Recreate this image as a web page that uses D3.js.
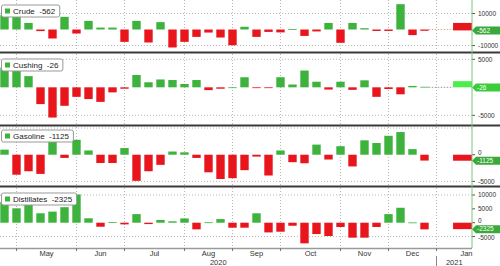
<!DOCTYPE html>
<html>
<head>
<meta charset="utf-8">
<script src="https://cdn.jsdelivr.net/npm/d3@7"></script>
<style>
body { margin: 0; background: #fff; }
svg { display: block; }
text { font-family: "Liberation Sans", Arial, sans-serif; }
</style>
</head>
<body>
<script>
// Weekly changes (thousand barrels), one value per week from Apr 24 2020 to Dec 25 2020
var firstWeek = new Date(Date.UTC(2020, 3, 24));
var lastRegular = new Date(Date.UTC(2020, 11, 26));
var latestWeek = new Date(Date.UTC(2021, 0, 15));
var weeks = d3.utcFriday.range(firstWeek, lastRegular);

var crude = [9000, 9000, 4100, -1000, -5600, 7900, -2500, 5400, 1200, 1200, -7700, 5400,
	-8100, 4600, -11200, -7700, -4600, -1900, -5000, -9800, 1700, -4600, -1500, -1800,
	300, -4000, -1200, 4100, -8300, 4100, 800, -900, -900, 15800, -3500, -800];
var cushing = [3500, 3500, 2000, -3000, -5400, -3300, -1700, -2100, -2600, -900, -250, 2200,
	900, 1400, 1300, 600, 1300, -500, -250, 0, 1800, -100, -100, 1800,
	500, 3000, 1000, -400, 1000, -450, 1250, -1700, -300, -1250, 250, 100];
var gasoline = [950, -3750, -3100, -3600, 2500, -600, 2800, 800, -1550, -1550, 1250, -4900,
	-3100, -1900, 600, 450, -600, -3300, -4550, -4400, -2900, -350, -3900, 800,
	-1400, -1600, 1900, -900, 1600, -2200, 2700, 2200, 3550, 4250, 1050, -1100];
var distillates = [7500, 5200, 6400, 3400, 4000, 5600, 10200, 1600, -1450, 250, -600, 3100,
	-500, 1000, 500, 1550, -2400, 150, 1300, -1800, -1800, 3400, -3500, -3250,
	-1100, -7450, -4100, -4800, -1550, -5400, -5400, -1550, 3100, 5400, 100, -2400];

// Latest reading and the wide end bar drawn for it
var names = ["Crude", "Cushing", "Gasoline", "Distillates"];
var latest = [-562, -26, -1125, -2325];
var latestBars = [[-562, 4100], [0, 1100], [-1125, 0], [-2325, 0]];
var axisTicks = [[10000, -10000], [5000, -5000], [0, -5000], [10000, 5000, 0, -5000]];
var gridTicks = [[10000, -10000], [5000, -5000], [5000, -5000], [10000, -5000]];

var width = 500, height = 266, plotRight = 472;
var green = "#3db23d", red = "#e8161c";

var panels = [
	{ values: crude, top: 0, bottom: 51, domain: [-13400, 18400], lastColor: red, tagColor: "#3aa83a", gap: "#cdb38a" },
	{ values: cushing, top: 54, bottom: 124, domain: [-6550, 5950], lastColor: "#4ded4d", tagColor: "#3bcc3b", gap: "#999" },
	{ values: gasoline, top: 127, bottom: 185, domain: [-5680, 5200], lastColor: red, tagColor: "#3aa83a", gap: null },
	{ values: distillates, top: 188, bottom: 248, domain: [-9130, 12530], lastColor: red, tagColor: "#3aa83a", gap: null }
];

var x = d3.scaleUtc()
	.domain([firstWeek, latestWeek])
	.range([4.5, 460.5]);
var step = x(d3.utcDay.offset(firstWeek, 7)) - x(firstWeek);
var barW = step * 0.7;

var svg = d3.select("body")
	.append("svg")
		.attr("width", width)
		.attr("height", height);

// Month ticks sit on the first weekly bar of each month
var months = d3.utcMonth.range(new Date(Date.UTC(2020, 4, 1)), new Date(Date.UTC(2021, 1, 2)));
var monthTicks = months.map(function(m) { return d3.utcFriday.ceil(m); });
var gridMonths = monthTicks.slice(0, -1);

panels.forEach(function(p, i) {
	var y = d3.scaleLinear().domain(p.domain).range([p.bottom, p.top]);
	var g = svg.append("g");

	// Dotted grid
	g.selectAll("line.vgrid")
		.data(gridMonths)
		.enter().append("line")
			.attr("x1", function(d) { return x(d); })
			.attr("x2", function(d) { return x(d); })
			.attr("y1", p.top)
			.attr("y2", p.bottom)
			.attr("stroke", "#b8b8b8")
			.attr("stroke-dasharray", "1,2");
	g.selectAll("line.hgrid")
		.data(gridTicks[i])
		.enter().append("line")
			.attr("x1", 0)
			.attr("x2", plotRight)
			.attr("y1", function(d) { return y(d); })
			.attr("y2", function(d) { return y(d); })
			.attr("stroke", "#b8b8b8")
			.attr("stroke-dasharray", "1,2");

	// Weekly bars
	g.selectAll("rect.bar")
		.data(p.values)
		.enter().append("rect")
			.attr("x", function(d, k) { return x(weeks[k]) - barW / 2; })
			.attr("width", barW)
			.attr("y", function(d) { return y(Math.max(0, d)); })
			.attr("height", function(d) { return Math.max(0.8, Math.abs(y(d) - y(0))); })
			.attr("fill", function(d) { return d >= 0 ? green : red; });

	// Dotted link across the missing weeks
	if (p.gap) {
		g.append("line")
			.attr("x1", x(weeks[weeks.length - 1]) + barW / 2)
			.attr("x2", x(latestWeek) - step * 0.62)
			.attr("y1", y(0))
			.attr("y2", y(0))
			.attr("stroke", p.gap)
			.attr("stroke-dasharray", "1.5,1.5");
	}

	// Latest bar, drawn wide up to the axis
	var lb = latestBars[i];
	g.append("rect")
		.attr("x", x(latestWeek) - step * 0.62)
		.attr("width", plotRight - (x(latestWeek) - step * 0.62))
		.attr("y", y(lb[1]))
		.attr("height", Math.abs(y(lb[0]) - y(lb[1])))
		.attr("fill", p.lastColor);

	// Right axis labels, nudged clear of the value tag
	var cy = y(latest[i]);
	var ticks = g.selectAll("g.tick")
		.data(axisTicks[i])
		.enter().append("g")
			.attr("transform", function(d) { return "translate(" + plotRight + "," + y(d) + ")"; });
	ticks.append("line")
		.attr("x1", 0).attr("x2", 3)
		.attr("stroke", "#555");
	ticks.append("text")
		.attr("x", 6)
		.attr("y", function(d) {
			var off = y(d) - cy;
			if (Math.abs(off) >= 8.5) return 0;
			return (off < 0 ? -8.5 : 8.5) - off;
		})
		.attr("dy", "0.35em")
		.attr("font-size", 6.5)
		.attr("fill", "#333")
		.text(function(d) { return d; });

	// Last value tag
	g.append("path")
		.attr("d", "M" + plotRight + "," + cy + "L" + (plotRight + 4) + "," + (cy - 4) +
			"H" + width + "V" + (cy + 4) + "H" + (plotRight + 4) + "Z")
		.attr("fill", p.tagColor);
	g.append("text")
		.attr("x", plotRight + 5)
		.attr("y", cy)
		.attr("dy", "0.35em")
		.attr("font-size", 6.5)
		.attr("fill", "#fff")
		.text(latest[i]);

	// Legend box
	var legend = g.append("g")
		.attr("transform", "translate(1," + (p.top + (i === 2 ? 3 : 5)) + ")");
	var label = legend.append("text")
		.attr("x", 12)
		.attr("y", 6)
		.attr("dy", "0.35em")
		.attr("font-size", 8)
		.attr("fill", "#222")
		.text(names[i] + "  " + latest[i])
		.attr("xml:space", "preserve");
	var tw = label.node().getComputedTextLength();
	legend.insert("rect", "text")
		.attr("x", 0.5).attr("y", 0)
		.attr("width", tw + 16).attr("height", 12)
		.attr("rx", 2)
		.attr("fill", "#fff")
		.attr("stroke", "#999");
	legend.append("rect")
		.attr("x", 4).attr("y", 3.5)
		.attr("width", 5).attr("height", 5)
		.attr("fill", green);
});

// Panel separators
[52.5, 125.5, 186.5].forEach(function(sy) {
	svg.append("line")
		.attr("x1", 0).attr("x2", width)
		.attr("y1", sy).attr("y2", sy)
		.attr("stroke", "#3a3a3a")
		.attr("stroke-width", 2);
});

// Right axis line
svg.append("line")
	.attr("x1", plotRight).attr("x2", plotRight)
	.attr("y1", 0).attr("y2", 248)
	.attr("stroke", "#7cc47c");

// Bottom time axis
svg.append("line")
	.attr("x1", 0).attr("x2", plotRight)
	.attr("y1", 248.5).attr("y2", 248.5)
	.attr("stroke", "#9a9a9a")
	.attr("stroke-width", 1.5);
svg.selectAll("line.mtick")
	.data(gridMonths)
	.enter().append("line")
		.attr("x1", function(d) { return x(d); })
		.attr("x2", function(d) { return x(d); })
		.attr("y1", 248).attr("y2", 251)
		.attr("stroke", "#777");

svg.selectAll("text.month")
	.data(gridMonths)
	.enter().append("text")
		.attr("x", function(d, k) { return (x(d) + x(monthTicks[k + 1])) / 2; })
		.attr("y", 256)
		.attr("text-anchor", "middle")
		.attr("font-size", 7.5)
		.attr("fill", "#333")
		.text(function(d) { return d3.utcFormat("%b")(d); });

var yearStart = new Date(Date.UTC(2021, 0, 1));
svg.append("line")
	.attr("x1", x(yearStart)).attr("x2", x(yearStart))
	.attr("y1", 256).attr("y2", 266)
	.attr("stroke", "#888");
svg.append("text")
	.attr("x", x(yearStart) / 2)
	.attr("y", 264.5)
	.attr("text-anchor", "middle")
	.attr("font-size", 7.5)
	.attr("fill", "#333")
	.text("2020");
svg.append("text")
	.attr("x", (x(yearStart) + plotRight) / 2)
	.attr("y", 264.5)
	.attr("text-anchor", "middle")
	.attr("font-size", 7.5)
	.attr("fill", "#333")
	.text("2021");
</script>
</body>
</html>
